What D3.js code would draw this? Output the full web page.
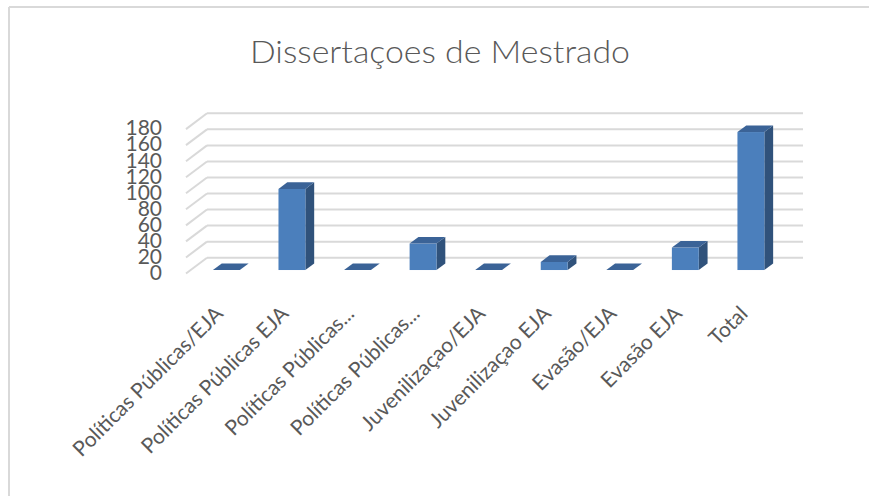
<!DOCTYPE html>
<html>
<head>
<meta charset="utf-8">
<script src="https://cdn.jsdelivr.net/npm/d3@7"></script>
<style>
  html, body { margin: 0; padding: 0; background: #fff; }
  svg { display: block; }
</style>
</head>
<body>
<svg id="chart" width="869" height="496"></svg>
<script>
const categories = [
  "Políticas Públicas/EJA",
  "Políticas Públicas EJA",
  "Políticas Públicas...",
  "Políticas Públicas...",
  "Juvenilizaçao/EJA",
  "Juvenilizaçao EJA",
  "Evasão/EJA",
  "Evasão EJA",
  "Total"
];
const values = [0, 101, 0, 33, 0, 10, 0, 28, 172];
const yTicks = [0, 20, 40, 60, 80, 100, 120, 140, 160, 180];
const title = "Dissertaçoes de Mestrado";

const svg = d3.select("#chart");
const W = 869, H = 496;

// border (top + left only, as in reference)
svg.append("line").attr("x1", 9).attr("y1", 7).attr("x2", W).attr("y2", 7)
  .attr("stroke", "#d9d9d9").attr("stroke-width", 2);
svg.append("line").attr("x1", 9).attr("y1", 7).attr("x2", 9).attr("y2", H)
  .attr("stroke", "#d9d9d9").attr("stroke-width", 2);

// title
svg.append("text")
  .attr("x", 440).attr("y", 63)
  .attr("text-anchor", "middle")
  .attr("font-family", "Lato, 'Open Sans', sans-serif")
  .attr("font-weight", 300)
  .attr("font-size", 31)
  .attr("textLength", 380)
  .attr("lengthAdjust", "spacingAndGlyphs")
  .attr("fill", "#595959")
  .text(title);

// 3D geometry: back wall plane and depth vector (back -> front)
const backLeft = 207, backRight = 803;
const depthDX = -21, depthDY = 15.8;

const yBack = d3.scaleLinear().domain([0, 180]).range([257.7, 113.3]);
const xBack = d3.scaleBand().domain(d3.range(categories.length))
  .range([backLeft, backRight]).paddingInner(0.59).paddingOuter(0.34);

// gridlines on back wall + side wall diagonals
const grid = svg.append("g");
yTicks.forEach(t => {
  const y = yBack(t);
  grid.append("line")
    .attr("x1", backLeft).attr("x2", backRight)
    .attr("y1", y).attr("y2", y)
    .attr("stroke", "#d9d9d9").attr("stroke-width", 2);
  grid.append("line")
    .attr("x1", backLeft).attr("y1", y)
    .attr("x2", backLeft + depthDX).attr("y2", y + depthDY)
    .attr("stroke", "#d9d9d9").attr("stroke-width", 2);
});

// y tick labels
const yAxisG = svg.append("g");
yTicks.forEach(t => {
  yAxisG.append("text")
    .attr("x", 162)
    .attr("y", yBack(t) + depthDY + 1)
    .attr("text-anchor", "end")
    .attr("dominant-baseline", "middle")
    .attr("font-family", "Lato, 'Open Sans', sans-serif")
    .attr("font-size", 21)
    .attr("fill", "#595959")
    .text(t);
});

// bars
const tFront = 0.78, tBack = 0.36;
const cFront = "#4b7fbc", cSide = "#30527b", cTop = "#3b6397";
const bars = svg.append("g");
values.forEach((v, i) => {
  const xb = xBack(i), bw = xBack.bandwidth();
  const xlF = xb + depthDX * tFront, xrF = xlF + bw;
  const xlB = xb + depthDX * tBack, xrB = xlB + bw;
  const topF = yBack(v) + depthDY * tFront, botF = yBack(0) + depthDY * tFront;
  const topB = yBack(v) + depthDY * tBack, botB = yBack(0) + depthDY * tBack;
  const g = bars.append("g");
  g.append("path")
    .attr("d", `M${xrF},${topF}L${xrB},${topB}L${xrB},${botB}L${xrF},${botF}Z`)
    .attr("fill", cSide);
  g.append("rect")
    .attr("x", xlF).attr("y", topF)
    .attr("width", bw).attr("height", Math.max(0, botF - topF))
    .attr("fill", cFront);
  g.append("path")
    .attr("d", `M${xlF},${topF}L${xrF},${topF}L${xrB},${topB}L${xlB},${topB}Z`)
    .attr("fill", cTop);
});

// category labels, rotated -45
const xLab = svg.append("g");
categories.forEach((c, i) => {
  const cx = xBack(i) + xBack.bandwidth() / 2 + depthDX * tFront;
  const ax = cx - 2, ay = 315;
  xLab.append("text")
    .attr("transform", `translate(${ax},${ay}) rotate(-45)`)
    .attr("text-anchor", "end")
    .attr("font-family", "Lato, 'Open Sans', sans-serif")
    .attr("font-size", 21)
    .attr("fill", "#595959")
    .text(c);
});
</script>
</body>
</html>
